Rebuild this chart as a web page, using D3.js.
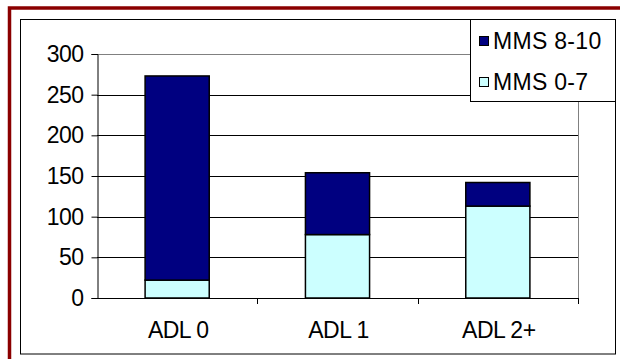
<!DOCTYPE html>
<html>
<head>
<meta charset="utf-8">
<script src="https://cdn.jsdelivr.net/npm/d3@7/dist/d3.min.js"></script>
<style>
  html, body { margin: 0; padding: 0; background: #fff; }
  svg { display: block; }
  text { font-family: "Liberation Sans", Arial, sans-serif; fill: #000; }
</style>
</head>
<body>
<script>
// Stacked counts per ADL group, split by MMS score band
const categories = ["ADL 0", "ADL 1", "ADL 2+"];
const seriesNames = ["MMS 0-7", "MMS 8-10"];
const mmsLow = [22, 78, 113];   // MMS 0-7 (bottom segment)
const mmsHigh = [251, 76, 29];  // MMS 8-10 (top segment)
const yTicks = [0, 50, 100, 150, 200, 250, 300];
const colors = { "MMS 0-7": "#ccffff", "MMS 8-10": "#000080" };

const W = 620, H = 359;
const FS = 23;
const svg = d3.select("body").append("svg").attr("width", W).attr("height", H);

// outer dark red frame and inner chart frame
svg.append("rect").attr("x", 9.5).attr("y", 8).attr("width", W).attr("height", H)
  .attr("fill", "none").attr("stroke", "#8b0000").attr("stroke-width", 3.5);
svg.append("rect").attr("x", 20.5).attr("y", 19.5).attr("width", 595).attr("height", 334.5)
  .attr("fill", "#fff").attr("stroke", "#000").attr("stroke-width", 1);

const plot = { left: 97, right: 578, top: 54, bottom: 298 };

const y = d3.scaleLinear().domain([0, 300]).range([plot.bottom, plot.top]);
const x = d3.scaleBand().domain(categories).range([plot.left, plot.right])
  .paddingInner(0.6).paddingOuter(0.3);

// gridlines
svg.append("g").selectAll("line").data(yTicks.filter(d => d > 0 && d < 300)).join("line")
  .attr("x1", plot.left).attr("x2", plot.right)
  .attr("y1", d => Math.round(y(d)) + 0.5).attr("y2", d => Math.round(y(d)) + 0.5)
  .attr("stroke", "#000").attr("stroke-width", 1);

// plot area border (top and right) in grey
svg.append("path")
  .attr("d", `M${plot.left},${Math.round(y(300)) + 0.5}H${plot.right + 0.5}V${plot.bottom}`)
  .attr("fill", "none").attr("stroke", "#808080").attr("stroke-width", 1);

// stacked bars
const rows = categories.map((c, i) => ({ cat: c, "MMS 0-7": mmsLow[i], "MMS 8-10": mmsHigh[i] }));
const stacked = d3.stack().keys(seriesNames)(rows);
svg.append("g").selectAll("g").data(stacked).join("g")
  .attr("fill", d => colors[d.key])
  .selectAll("rect").data(d => d).join("rect")
  .attr("x", d => x(d.data.cat))
  .attr("width", x.bandwidth())
  .attr("y", d => y(d[1]))
  .attr("height", d => y(d[0]) - y(d[1]))
  .attr("stroke", "#000").attr("stroke-width", 1.5);

// y axis
const yAxis = svg.append("g").attr("transform", `translate(${plot.left + 0.5},0)`)
  .call(d3.axisLeft(y).tickValues(yTicks).tickSize(6).tickPadding(8).tickFormat(d3.format("d")));
yAxis.select(".domain").attr("stroke", "#000");
yAxis.selectAll(".tick line").attr("stroke", "#000");
yAxis.selectAll("text").attr("font-size", FS).attr("letter-spacing", -0.5)
  .attr("font-family", "Liberation Sans, Arial, sans-serif").attr("fill", "#000");

// x axis baseline with ticks at category boundaries
const step = x.step();
const bounds = [plot.left].concat(categories.map(c => x(c) + x.bandwidth() + step * x.paddingOuter()));
svg.append("line").attr("x1", plot.left).attr("x2", plot.right + 1)
  .attr("y1", plot.bottom + 0.5).attr("y2", plot.bottom + 0.5).attr("stroke", "#000");
svg.append("g").selectAll("line").data(bounds.slice(1)).join("line")
  .attr("x1", d => Math.round(d) + 0.5).attr("x2", d => Math.round(d) + 0.5)
  .attr("y1", plot.bottom).attr("y2", plot.bottom + 6).attr("stroke", "#000");
svg.append("g").selectAll("text").data(categories).join("text")
  .attr("x", d => x(d) + x.bandwidth() / 2 + 1)
  .attr("y", 338)
  .attr("text-anchor", "middle")
  .attr("font-size", FS).attr("letter-spacing", -0.5)
  .text(d => d);

// legend
const lg = svg.append("g");
lg.append("rect").attr("x", 470.5).attr("y", 19.5).attr("width", 145).attr("height", 82)
  .attr("fill", "#fff").attr("stroke", "#000").attr("stroke-width", 1);
const legendItems = ["MMS 8-10", "MMS 0-7"];
legendItems.forEach((name, i) => {
  const cy = 41 + i * 41;
  lg.append("rect").attr("x", 479.5).attr("y", cy - 4.5).attr("width", 9).attr("height", 9)
    .attr("fill", colors[name]).attr("stroke", "#000").attr("stroke-width", 1);
  lg.append("text").attr("x", 493).attr("y", cy + 8)
    .attr("font-size", FS).attr("letter-spacing", 0.3)
    .text(name);
});
</script>
</body>
</html>
